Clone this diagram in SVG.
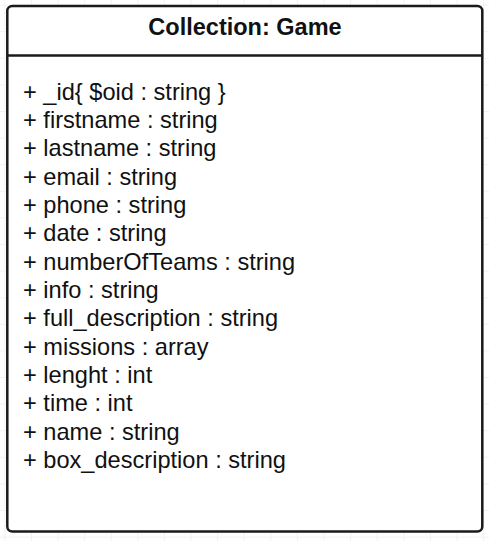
<svg xmlns="http://www.w3.org/2000/svg" width="489" height="541" viewBox="0 0 489 541">
  <defs>
    <pattern id="grid" x="4.3" y="4.6" width="26.6" height="26.6" patternUnits="userSpaceOnUse">
      <path d="M 0 0 L 26.6 0 M 0 0 L 0 26.6" fill="none" stroke="#e6e6e6" stroke-width="1"/>
    </pattern>
  </defs>
  <style>
    .box { fill: #ffffff; stroke: #1a1a1a; stroke-width: 2.5; }
    .sep { stroke: #1a1a1a; stroke-width: 2.5; }
    .title { font-family: "Liberation Sans", Arial, sans-serif; font-size: 23.5px; font-weight: bold; fill: #111111; text-anchor: middle; }
    .attr { font-family: "Liberation Sans", Arial, sans-serif; font-size: 23.6px; fill: #111111; }
  </style>
  <rect width="489" height="541" fill="#ffffff"/>
  <rect width="489" height="541" fill="url(#grid)"/>
  <g id="collection-game">
    <rect class="box" x="7.3" y="6" width="475" height="525.5" rx="5" ry="5"/>
    <line class="sep" x1="7.3" y1="55.5" x2="482.3" y2="55.5"/>
    <text class="title" x="245" y="35">Collection: Game</text>
    <text class="attr" x="23" y="99.5">+ _id{ $oid : string }</text>
    <text class="attr" x="23" y="127.85">+ firstname : string</text>
    <text class="attr" x="23" y="156.2">+ lastname : string</text>
    <text class="attr" x="23" y="184.55">+ email : string</text>
    <text class="attr" x="23" y="212.9">+ phone : string</text>
    <text class="attr" x="23" y="241.25">+ date : string</text>
    <text class="attr" x="23" y="269.6">+ numberOfTeams : string</text>
    <text class="attr" x="23" y="297.95">+ info : string</text>
    <text class="attr" x="23" y="326.3">+ full_description : string</text>
    <text class="attr" x="23" y="354.65">+ missions : array</text>
    <text class="attr" x="23" y="383">+ lenght : int</text>
    <text class="attr" x="23" y="411.35">+ time : int</text>
    <text class="attr" x="23" y="439.7">+ name : string</text>
    <text class="attr" x="23" y="468.05">+ box_description : string</text>
  </g>
  <g id="connectors"/>
</svg>
